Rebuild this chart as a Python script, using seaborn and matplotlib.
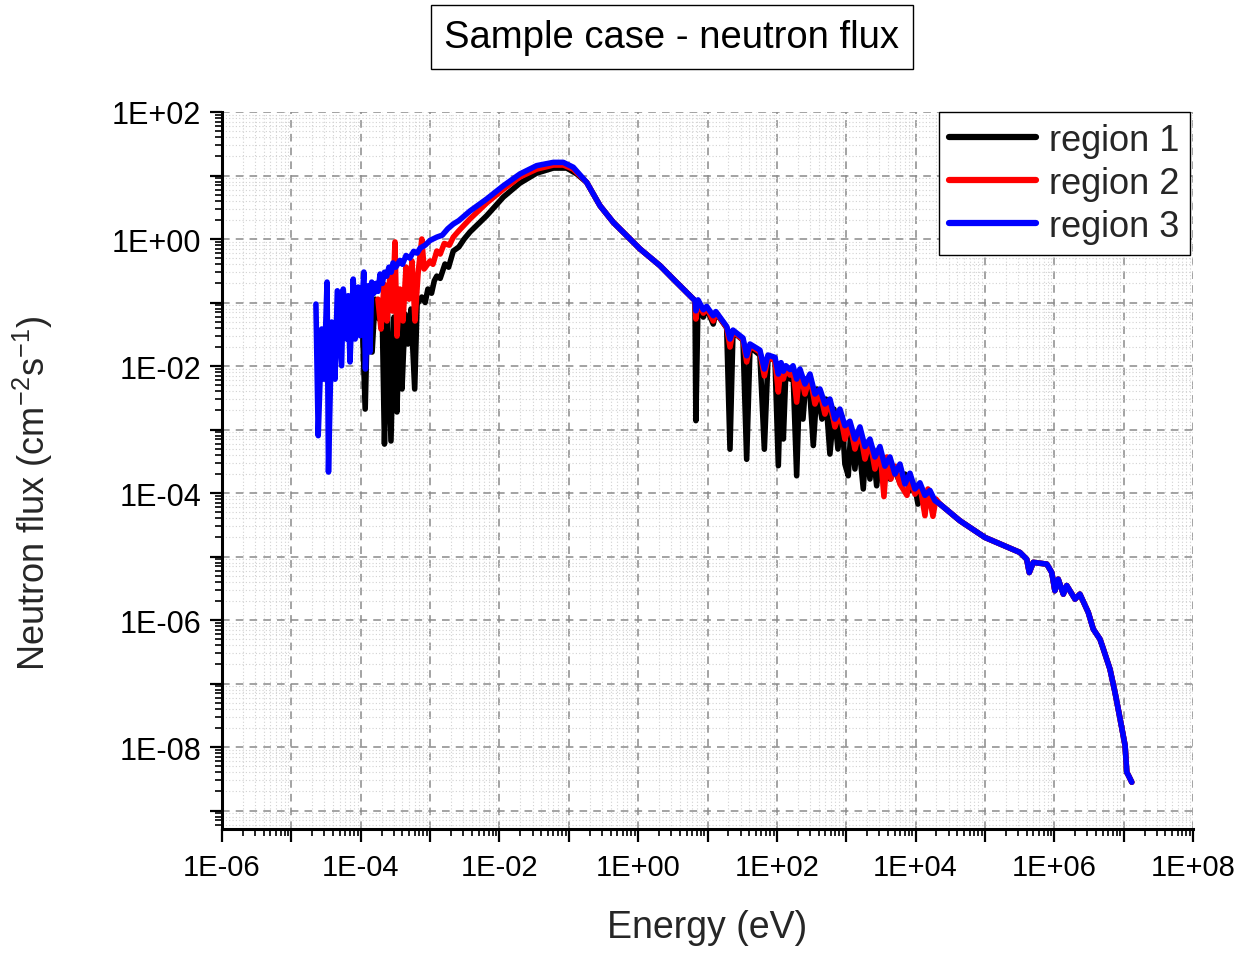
import numpy as np
import pandas as pd
import matplotlib
matplotlib.use("Agg")
import matplotlib.pyplot as plt
import seaborn as sns
from matplotlib.ticker import FixedLocator, FuncFormatter, NullFormatter

# ---------------- data ----------------
regions = ["region 1", "region 2", "region 3"]
colors = ["#000000", "#FF0000", "#0000FF"]

# thermal part, per region
e1_thermal = [1.04e-4, 1.16e-4, 1.27e-4, 1.46e-4, 1.61e-4, 1.84e-4, 2.03e-4, 2.2e-4, 2.43e-4,
              2.73e-4, 3.02e-4, 3.33e-4, 3.62e-4, 3.94e-4, 4.35e-4, 4.8e-4, 5.3e-4, 6.0e-4,
              6.5e-4, 7.6e-4, 8.5e-4, 9.3e-4, 1.05e-3, 1.15e-3, 1.25e-3, 1.4e-3, 1.64e-3,
              1.85e-3, 2.16e-3, 2.6e-3, 3.1e-3, 3.76e-3, 6.55e-3, 0.0114,
              0.0198, 0.0344, 0.0598, 0.0933, 0.130]
f1_thermal = [0.08, 2.1e-3, 0.113, 0.0166, 0.113, 0.055, 0.0946, 5.9e-4, 0.079, 6.6e-4,
              0.059, 1.89e-3, 0.055, 4.35e-3, 0.066, 0.0222, 0.079, 4.35e-3, 0.0946, 0.122,
              0.10, 0.163, 0.14, 0.22, 0.261, 0.24, 0.404, 0.36, 0.647, 0.75, 1.0, 1.29,
              2.33, 4.58, 7.6, 10.9, 13.1, 13.1, 10.6]

e2_thermal = [1.77e-4, 1.96e-4, 2.17e-4, 2.39e-4, 2.64e-4, 2.87e-4, 3.12e-4, 3.33e-4, 3.68e-4,
              4.07e-4, 4.5e-4, 4.97e-4, 5.48e-4, 6.06e-4, 6.7e-4, 7.6e-4, 8.2e-4, 1.0e-3,
              1.1e-3, 1.25e-3, 1.4e-3, 1.6e-3, 1.9e-3, 2.16e-3, 2.6e-3, 3.76e-3, 6.55e-3,
              0.0114, 0.0198, 0.0344, 0.0598, 0.0834, 0.116]
f2_thermal = [0.113, 0.0383, 0.195, 0.0512, 0.281, 0.0734, 0.90, 0.0296, 0.163, 0.0512,
              0.362, 0.113, 0.451, 0.0512, 0.281, 1.0, 0.337, 0.451, 0.40, 0.647, 0.58,
              0.85, 0.80, 1.07, 1.35, 2.07, 3.69, 6.1, 9.5, 12.6, 14.6, 14.6, 12.6]

e3_thermal = [2.26e-5, 2.44e-5, 2.74e-5, 2.96e-5, 3.27e-5, 3.43e-5, 3.82e-5, 4.26e-5, 4.6e-5,
              5.3e-5, 5.6e-5, 6.3e-5, 6.6e-5, 7.0e-5, 7.8e-5, 8.3e-5, 9.2e-5, 9.8e-5, 1.11e-4,
              1.17e-4, 1.29e-4, 1.36e-4, 1.44e-4, 1.55e-4, 1.66e-4, 1.78e-4, 1.9e-4, 2.05e-4,
              2.2e-4, 2.37e-4, 2.55e-4, 2.75e-4, 2.92e-4, 3.2e-4, 3.68e-4, 4.0e-4, 4.5e-4,
              5.1e-4, 5.8e-4, 6.5e-4, 7.2e-4, 8.5e-4, 1.0e-3, 1.25e-3, 1.5e-3, 1.8e-3,
              2.16e-3, 2.6e-3, 3.76e-3, 6.55e-3, 0.0114, 0.0198, 0.0344,
              0.0598, 0.0834, 0.116]
f3_thermal = [0.0946, 8.0e-4, 0.0383, 6.2e-3, 0.21, 2.14e-4, 0.0493, 6.2e-3, 0.153, 0.0101,
              0.163, 0.0266, 0.128, 0.0116, 0.234, 0.0266, 0.175, 0.030, 0.302, 8.97e-3,
              0.184, 0.0166, 0.21, 0.14, 0.2, 0.15, 0.281, 0.2, 0.30, 0.26, 0.36, 0.30,
              0.42, 0.36, 0.46, 0.40, 0.55, 0.50, 0.64, 0.60, 0.72, 0.80, 0.95, 1.07,
              1.15, 1.45, 1.72, 1.95, 2.76, 4.27, 6.9, 10.6, 14.3, 16.1, 16.1, 13.5]

# slowing-down part, common to all regions
e_slow = [0.181, 0.282, 0.438, 0.684, 1.06, 2.07, 3.21, 5.58]
f_slow = [7.8, 3.34, 1.83, 1.13, 0.70, 0.38, 0.234, 0.128]

# resolved resonances, common energy grid
e_res = [6.6, 6.8, 7.3, 8.7, 9.7, 12.1, 13.2, 18.9, 21.1, 23.3, 32.5, 36.7, 41, 57, 66,
         74.5, 94, 105, 115, 124, 135, 155, 171, 193]
f1_res = [0.107, 1.38e-3, 0.105, 0.059, 0.082, 0.0458, 0.069, 0.040, 4.9e-4, 0.0345, 0.0256,
          3.4e-4, 0.0199, 0.0149, 4.9e-4, 0.0129, 0.0129, 2.7e-4, 9.6e-3, 7.1e-4, 8.3e-3,
          6.24e-3, 8.3e-3, 1.87e-4]
f2_res = [0.107, 0.055, 0.105, 0.068, 0.083, 0.0512, 0.070, 0.0405, 0.0199, 0.035, 0.026,
          0.0116, 0.0207, 0.0166, 6.97e-3, 0.0137, 0.0122, 3.9e-3, 0.0101, 6.24e-3, 8.97e-3,
          7.2e-3, 8.97e-3, 2.7e-3]
f3_res = [0.107, 0.074, 0.11, 0.077, 0.087, 0.062, 0.072, 0.042, 0.0266, 0.0368, 0.0276,
          0.0145, 0.0222, 0.0178, 8.97e-3, 0.0149, 0.0137, 7.48e-3, 0.0113, 8.3e-3, 0.0101,
          8.8e-3, 0.0101, 6.24e-3]

# upper resonance band, per region
e1_band = [215, 238, 263, 300, 335, 379, 447, 510, 582, 665, 760, 869, 957, 1070, 1172, 1335,
           1479, 1762, 1927, 2198, 2427, 2747, 3062, 3500, 3860, 4266, 4872, 5957, 7031, 8299,
           9795, 10840, 12370, 14130, 17230, 22440]
f1_band = [7.8e-3, 1.46e-3, 6.24e-3, 3.62e-3, 5.6e-4, 4.35e-3, 1.46e-3, 3.02e-3, 4.11e-4,
           2.10e-3, 4.93e-4, 1.6e-3, 2.86e-4, 1.87e-4, 1.1e-3, 2.39e-4, 8.5e-4, 1.16e-4,
           5.9e-4, 1.66e-4, 4.93e-4, 1.3e-4, 4.11e-4, 1.35e-4, 3.43e-4, 1.66e-4, 2.5e-4,
           1.45e-4, 1.99e-4, 1.1e-4, 1.23e-4, 6.7e-5, 1.06e-4, 8.05e-5, 8.05e-5, 6.71e-5]
e2_band = [215, 254, 300, 354, 418, 493, 582, 687, 811, 957, 1130, 1335, 1577, 1862, 2198,
           2594, 3062, 3500, 3860, 4410, 5043, 5957, 7510, 8299, 9795, 11560, 13650, 15070,
           17800, 19660, 22440]
f2_band = [8.5e-3, 3.62e-3, 6.8e-3, 2.52e-3, 3.9e-3, 1.75e-3, 2.75e-3, 1.1e-3, 1.85e-3,
           7.08e-4, 1.22e-3, 4.93e-4, 9.5e-4, 3.43e-4, 6.6e-4, 2.39e-4, 4.93e-4, 8.8e-5,
           3.7e-4, 1.66e-4, 2.65e-4, 1.39e-4, 9.2e-5, 1.8e-4, 9.6e-5, 1.33e-4, 4.4e-5,
           1.16e-4, 4.3e-5, 8.05e-5, 6.71e-5]
e3_band = [215, 254, 300, 354, 418, 493, 582, 687, 811, 957, 1130, 1335, 1577, 1862, 2198,
           2594, 3062, 3614, 4266, 5043, 5957, 7031, 8299, 9795, 11560, 13650, 16110, 19010,
           22440]
f3_band = [8.97e-3, 5.21e-3, 7.48e-3, 3.62e-3, 4.35e-3, 2.52e-3, 3.02e-3, 1.46e-3, 2.10e-3,
           1.15e-3, 1.35e-3, 7.08e-4, 1.1e-3, 5.4e-4, 7.08e-4, 3.7e-4, 5.4e-4, 2.65e-4,
           3.7e-4, 1.99e-4, 2.86e-4, 1.39e-4, 2.05e-4, 1.16e-4, 1.45e-4, 9.2e-5, 1.1e-4,
           7.6e-5, 6.71e-5]

# fast part, common to all regions
e_fast = [43600, 1.0e5, 3.2e5, 4.0e5, 4.36e5, 4.98e5, 7.8e5, 9.2e5, 1.02e6, 1.14e6, 1.35e6,
          1.51e6, 1.99e6, 2.34e6, 3.09e6, 3.65e6, 4.56e6, 5.1e6, 6.35e6, 7.5e6, 8.9e6,
          1.05e7, 1.11e7, 1.17e7, 1.31e7]
f_fast = [3.66e-5, 2.0e-5, 1.16e-5, 9.1e-6, 5.6e-6, 8.1e-6, 7.6e-6, 5.6e-6, 2.9e-6, 4.4e-6,
          2.56e-6, 3.5e-6, 2.14e-6, 2.56e-6, 1.32e-6, 7.2e-7, 5.0e-7, 3.5e-7, 1.69e-7,
          7.3e-8, 2.76e-8, 1.05e-8, 4.0e-9, 3.6e-9, 2.8e-9]

x_ticks = 10.0 ** np.arange(-6, 9)
y_ticks = 10.0 ** np.arange(-9, 3)

# ---------------- build table ----------------
parts = {
    "region 1": [(e1_thermal, f1_thermal), (e_slow, f_slow), (e_res, f1_res), (e1_band, f1_band), (e_fast, f_fast)],
    "region 2": [(e2_thermal, f2_thermal), (e_slow, f_slow), (e_res, f2_res), (e2_band, f2_band), (e_fast, f_fast)],
    "region 3": [(e3_thermal, f3_thermal), (e_slow, f_slow), (e_res, f3_res), (e3_band, f3_band), (e_fast, f_fast)],
}
frames = []
for reg in regions:
    e = np.concatenate([np.asarray(p[0], float) for p in parts[reg]])
    f = np.concatenate([np.asarray(p[1], float) for p in parts[reg]])
    frames.append(pd.DataFrame({"Energy": e, "Flux": f, "Region": reg}))
df = pd.concat(frames, ignore_index=True)

# ---------------- style ----------------
sns.set_style("ticks")
plt.rcParams["font.family"] = ["Liberation Sans", "DejaVu Sans"]
plt.rcParams["mathtext.fontset"] = "custom"
plt.rcParams["mathtext.rm"] = "Liberation Sans"
plt.rcParams["mathtext.it"] = "Liberation Sans:italic"
plt.rcParams["mathtext.bf"] = "Liberation Sans:bold"

W, H = 1253, 954
fig = plt.figure(figsize=(W / 100, H / 100), dpi=100)
fig.patch.set_facecolor("white")
ax = fig.add_axes([222 / W, 1 - 830 / H, (1193 - 222) / W, (830 - 113) / H])

sns.lineplot(data=df, x="Energy", y="Flux", hue="Region", hue_order=regions,
             palette=colors, sort=False, estimator=None, linewidth=4.0,
             solid_joinstyle="round", solid_capstyle="round", ax=ax)

ax.set_xscale("log")
ax.set_yscale("log")
ax.set_xlim(1e-6, 1e8)
ax.set_ylim(10 ** -9.29, 1e2)


def dec_fmt(v, pos):
    k = int(round(np.log10(v)))
    return f"1E{k:+03d}" if k % 2 == 0 else ""


for axis, ticks in ((ax.xaxis, x_ticks), (ax.yaxis, y_ticks)):
    axis.set_major_locator(FixedLocator(ticks))
    axis.set_major_formatter(FuncFormatter(dec_fmt))
    decades = np.append(ticks[0] / 10, ticks)
    minors = [t * s for t in decades for s in range(2, 10)]
    axis.set_minor_locator(FixedLocator(minors))
    axis.set_minor_formatter(NullFormatter())

ax.tick_params(which="major", direction="out", length=9, width=1.6,
               color="black", labelcolor="black")
ax.tick_params(axis="x", which="major", pad=8, labelsize=21)
ax.tick_params(axis="y", which="major", pad=6, labelsize=22)
ax.tick_params(which="minor", direction="out", length=5, width=1.2, color="black")

ax.grid(which="major", linestyle=(0, (5, 4)), color="#8a8a8a", linewidth=1.1)
ax.grid(which="minor", linestyle=(0, (1, 2)), color="#d2d2d2", linewidth=0.8)
ax.set_axisbelow(True)

for s in ("top", "right"):
    ax.spines[s].set_visible(False)
for s in ("left", "bottom"):
    ax.spines[s].set_linewidth(2.2)
    ax.spines[s].set_color("black")

ax.set_xlabel("Energy (eV)", fontsize=27)
ax.set_ylabel(r"Neutron flux (cm$^{-2}$s$^{-1}$)", fontsize=26)
ax.xaxis.set_label_coords(0.5, -0.112)
ax.yaxis.set_label_coords(-0.172, 0.47)

handles, labels = ax.get_legend_handles_labels()
for h in handles:
    h.set_linewidth(4.5)
leg = ax.legend(handles, labels, loc="upper right", bbox_to_anchor=(0.997, 1.0),
                fontsize=26, frameon=True, fancybox=False, framealpha=1,
                edgecolor="black", handlelength=2.4, handletextpad=0.35,
                labelspacing=0.22, borderpad=0.3, borderaxespad=0.0)
leg.get_frame().set_linewidth(1.0)

fig.text(672 / W, 1 - 38 / H, "Sample case - neutron flux", ha="center", va="center",
         fontsize=27.5, color="black",
         bbox=dict(boxstyle="square,pad=0.36", facecolor="white", edgecolor="black", linewidth=1))

fig.savefig("out.png", dpi=100, facecolor="white")
